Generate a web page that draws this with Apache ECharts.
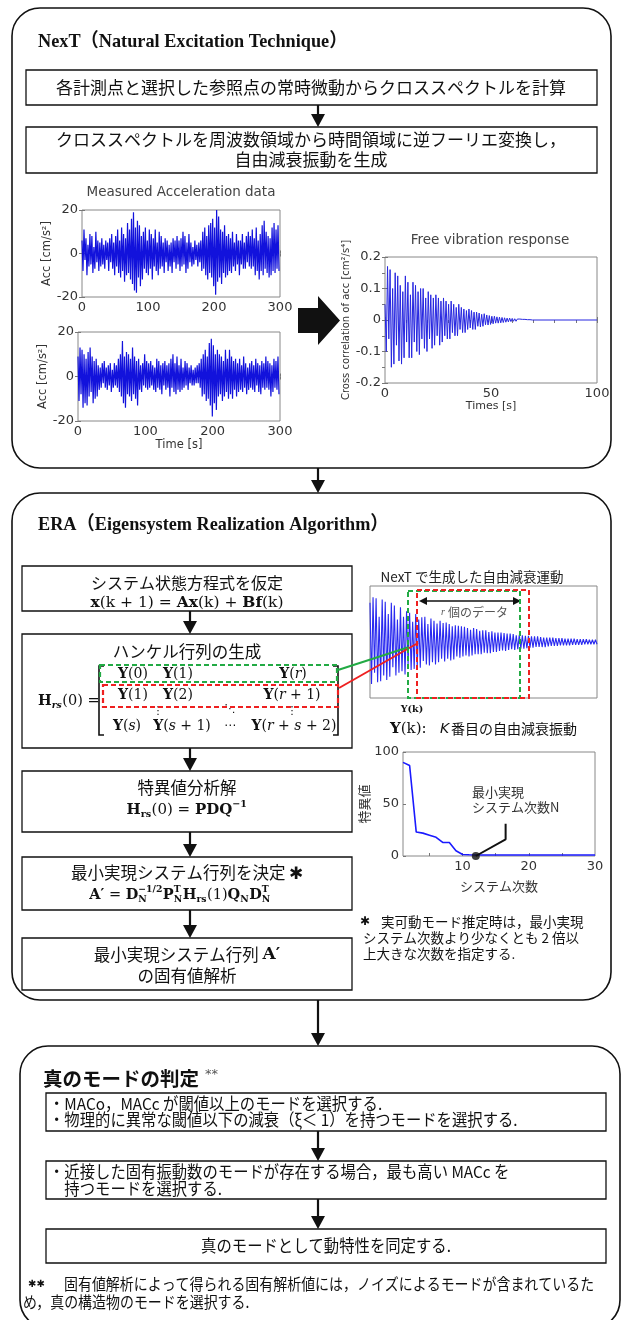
<!DOCTYPE html>
<html>
<head>
<meta charset="utf-8">
<script src="https://cdn.jsdelivr.net/npm/echarts@6/dist/echarts.min.js"></script>
<style>
  html, body { margin: 0; padding: 0; background: #fff; }
  #chart { width: 622px; height: 1320px; }
</style>
</head>
<body>
<div id="chart"></div>
<script>
// ---------- measured accelerations [cm/s^2], one sample every accelStep seconds ----------
const accelStep = 1.5;
const accelTop = [
  6,-8,11,-3,7,-10,4,-6,9,-5,   8,-9,3,-7,10,-4,6,-8,5,-6,
  7,-5,4,-7,6,-3,5,-8,7,-4,     9,-7,5,-10,8,-6,11,-9,6,-11,
  12,-8,9,-13,7,-10,14,-9,11,-12, 16,-14,19,-17,12,-18,15,-11,13,-15,
  8,-12,10,-7,12,-9,6,-10,11,-7, 9,-12,7,-6,11,-8,5,-10,10,-7,
  8,-6,5,-9,7,-4,6,-8,4,-6,     5,-9,7,-4,6,-7,8,-5,6,-8,
  7,-6,10,-5,8,-9,5,-7,9,-4,    5,-6,3,-5,6,-3,4,-6,5,-4,
  6,-8,10,-7,12,-10,8,-12,13,-9, 14,-11,16,-15,12,-19,20,-13,17,-11,
  11,-14,10,-9,13,-11,8,-10,9,-8, 7,-9,10,-6,5,-8,9,-5,6,-10,
  6,-5,9,-7,5,-7,8,-4,10,-6,    8,-7,11,-6,7,-10,12,-8,6,-12,
  9,-8,13,-10,15,-7,10,-9,8,-11, 7,-10,12,-8,14,-9,11,-7,13,-8
];
const accelBottom = [
  9,-11,13,-8,12,-14,10,-12,8,-13, 11,-9,13,-7,9,-12,7,-10,8,-9,
  5,-6,4,-5,6,-3,7,-5,4,-6,     5,-4,6,-7,3,-5,6,-4,5,-5,
  8,-7,10,-9,16,-12,9,-14,11,-8, 10,-9,8,-11,13,-8,9,-10,7,-13,
  8,-6,5,-7,6,-4,10,-5,7,-6,    6,-5,7,-4,5,-6,4,-7,8,-5,
  7,-6,5,-8,6,-4,7,-6,5,-5,     6,-9,8,-5,10,-7,6,-8,9,-6,
  5,-7,8,-6,4,-5,7,-4,6,-6,     4,-3,5,-4,3,-4,4,-3,5,-3,
  6,-5,8,-9,10,-8,12,-11,9,-10, 15,-13,17,-18,14,-12,10,-15,12,-9,
  10,-8,9,-11,7,-9,12,-7,8,-10, 12,-8,9,-10,7,-6,8,-9,6,-7,
  8,-6,5,-7,9,-5,6,-8,4,-6,     6,-5,7,-6,5,-7,8,-4,6,-7,
  5,-8,7,-5,6,-6,9,-5,7,-6,     6,-9,5,-7,8,-5,7,-6,9,-8
];

// ---------- cross-correlation free decay [cm^2/s^4], one extreme every freeStep seconds ----------
const freeStep = 0.6;
const freeEnd = 100;
const freeResponse = [
  0.05,-0.10,0.17,-0.06,0.16,-0.15,0.10,-0.14,0.15,-0.08,
  0.14,-0.13,0.11,-0.14,0.09,-0.12,0.14,-0.07,0.12,-0.12,
  0.08,-0.12,0.12,-0.07,0.11,-0.10,0.09,-0.11,0.10,-0.06,
  0.10,-0.09,0.07,-0.10,0.09,-0.06,0.08,-0.09,0.07,-0.08,
  0.08,-0.05,0.07,-0.08,0.06,-0.07,0.07,-0.05,0.06,-0.06,
  0.05,-0.06,0.06,-0.04,0.05,-0.05,0.04,-0.05,0.05,-0.03,
  0.04,-0.04,0.035,-0.04,0.03,-0.03,0.035,-0.025,0.03,-0.03,
  0.025,-0.03,0.025,-0.02,0.022,-0.022,0.018,-0.02,0.02,-0.015,
  0.016,-0.016,0.014,-0.014,0.012,-0.012,0.012,-0.01,0.01,-0.01,
  0.009,-0.009,0.008,-0.008,0.007,-0.007,0.006,-0.006,0.006,-0.005,
  0.005,-0.004,0.004,-0.004,0.003,-0.003,0.003,-0.003,0.002,-0.002,
  0.002,-0.002,0.001,-0.001,0.001,-0.001,0
];

// ---------- normalised free decay shown in the ERA sketch ----------
const eraDecay = [
  0.70,-0.75,0.80,-0.55,0.78,-0.72,0.45,-0.70,0.76,-0.60,
  0.72,-0.68,0.50,-0.62,0.70,-0.45,0.65,-0.60,0.40,-0.55,
  0.62,-0.52,0.45,-0.58,0.55,-0.40,0.52,-0.50,0.36,-0.48,
  0.50,-0.44,0.40,-0.46,0.44,-0.34,0.45,-0.40,0.32,-0.42,
  0.42,-0.36,0.38,-0.40,0.33,-0.36,0.38,-0.30,0.34,-0.35,
  0.35,-0.30,0.32,-0.33,0.28,-0.31,0.30,-0.26,0.29,-0.28,
  0.28,-0.26,0.27,-0.24,0.25,-0.26,0.22,-0.24,0.25,-0.22,
  0.23,-0.22,0.20,-0.22,0.21,-0.19,0.21,-0.20,0.18,-0.20,
  0.19,-0.18,0.17,-0.18,0.17,-0.16,0.17,-0.15,0.16,-0.16,
  0.15,-0.14,0.15,-0.13,0.14,-0.14,0.12,-0.13,0.13,-0.12,
  0.12,-0.12,0.11,-0.11,0.11,-0.10,0.10,-0.10,0.10,-0.09,
  0.10,-0.09,0.09,-0.09,0.08,-0.09,0.08,-0.08,0.08,-0.07,
  0.08,-0.07,0.07,-0.07,0.07,-0.06,0.07,-0.06,0.06,-0.06,
  0.06,-0.06,0.06,-0.05,0.06,-0.05,0.05,-0.05,0.05,-0.05,
  0.05,-0.04,0.05,-0.04,0.04,-0.04,0.04,-0.04,0.04,-0.04
];

// ---------- singular values by system order ----------
const systemOrders = [1,2,3,4,5,6,7,8,9,10,11,12,13,14,15,16,17,18,19,20,21,22,23,24,25,26,27,28,29,30];
const singularValues = [90,87,23,22,20,18,13,13,5,1.5,1.2,1,1,1,1,1,1,1,1,1,1,1,1,1,1,1,1,1,1,1];
const minOrderPoint = [12, 0];
const minOrderPointer = [[12, 0], [16.5, 16], [16.5, 31]];

// ---------- fonts & text helpers ----------
const SERIF = "'Liberation Serif','DejaVu Serif','Noto Sans CJK JP',serif";
const MATH = "'DejaVu Serif','Liberation Serif',serif";
const JP = "'Noto Sans CJK JP','Noto Sans',sans-serif";
const SANS = "'DejaVu Sans','Liberation Sans',sans-serif";
const mctx = document.createElement('canvas').getContext('2d');
const G = [];

function fontOf(o) {
  return (o.i ? 'italic ' : '') + (o.b ? 'bold ' : '') + o.size + 'px ' + (o.family || JP);
}
function tw(str, o) { mctx.font = fontOf(o); return mctx.measureText(str).width * (o.sx || 1); }

function txt(x, y, str, o) {
  G.push({
    type: 'text', x: x, y: y, scaleX: o.sx || 1, silent: true, z: o.z || 50,
    style: {
      text: str, x: 0, y: 0, font: fontOf(o), fill: o.color || '#111',
      align: o.align || 'left', verticalAlign: o.va || 'middle'
    }
  });
}
// inline maths: pieces {t,b,i} or script pieces {sub,sup,b,i}
function mathRow(x, y, pieces, size, align) {
  const scr = size * 0.64;
  let w = 0;
  const parts = [];
  for (const p of pieces) {
    if (p.t !== undefined) {
      const o = { size: p.size || size, family: p.jp ? JP : MATH, b: p.b, i: p.i };
      parts.push({ dx: w, dy: 0, t: p.t, o });
      w += tw(p.t, o);
    } else {
      let mw = 0;
      if (p.sup) { const o = { size: scr, family: MATH, b: p.b, i: p.i }; parts.push({ dx: w, dy: -size * 0.36, t: p.sup, o }); mw = Math.max(mw, tw(p.sup, o)); }
      if (p.sub) { const o = { size: scr, family: MATH, b: p.b, i: p.i }; parts.push({ dx: w, dy: size * 0.3, t: p.sub, o }); mw = Math.max(mw, tw(p.sub, o)); }
      w += mw + 0.5;
    }
  }
  const x0 = align === 'center' ? x - w / 2 : (align === 'right' ? x - w : x);
  parts.forEach(q => txt(x0 + q.dx, y + q.dy, q.t, Object.assign({}, q.o, { align: 'left' })));
  return w;
}
function box(x, y, w, h, o) {
  o = o || {};
  G.push({
    type: 'rect', silent: true, z: o.z || 40,
    shape: { x: x, y: y, width: w, height: h, r: o.r || 0 },
    style: { fill: 'none', stroke: o.stroke || '#111', lineWidth: o.lw || 1.3, lineDash: o.dash || null }
  });
}
function seg(x1, y1, x2, y2, color, lw) {
  G.push({ type: 'line', silent: true, z: 45, shape: { x1, y1, x2, y2 }, style: { stroke: color || '#111', lineWidth: lw || 2 } });
}
function poly(points, color) {
  G.push({ type: 'polygon', silent: true, z: 45, shape: { points }, style: { fill: color || '#111' } });
}
function arrowDown(x, y1, y2) {
  seg(x, y1, x, y2 - 10, '#111', 2.2);
  poly([[x - 7, y2 - 13], [x + 7, y2 - 13], [x, y2]]);
}

// ---------- NexT section ----------
box(12, 8, 599, 460, { r: 28, lw: 1.6 });
txt(38, 42, 'NexT（Natural Excitation Technique）', { size: 19, family: SERIF, b: true, sx: 0.96 });
box(26, 70, 571, 35);
txt(311, 87.5, '各計測点と選択した参照点の常時微動からクロススペクトルを計算', { size: 17, align: 'center' });
arrowDown(318, 105, 127);
box(26, 127, 571, 46);
txt(311, 140, 'クロススペクトルを周波数領域から時間領域に逆フーリエ変換し，', { size: 17, align: 'center' });
txt(311, 160, '自由減衰振動を生成', { size: 17, align: 'center' });

txt(181, 192, 'Measured Acceleration data', { size: 13.5, family: SANS, color: '#444', align: 'center' });
txt(490, 240, 'Free vibration response', { size: 13.5, family: SANS, color: '#444', align: 'center' });
// block arrow between the plots
poly([[298, 308], [318, 308], [318, 296], [340, 320.5], [318, 345], [318, 333], [298, 333]]);
arrowDown(318, 468, 493);

// ---------- ERA section ----------
box(12, 493, 599, 507, { r: 28, lw: 1.6 });
txt(38, 525, 'ERA（Eigensystem Realization Algorithm）', { size: 19, family: SERIF, b: true, sx: 0.96 });

const CX = 187;
box(22, 566, 330, 45);
txt(CX, 583, 'システム状態方程式を仮定', { size: 16, align: 'center' });
mathRow(CX, 603, [
  { t: 'x', b: true }, { t: '(k + 1) = ' }, { t: 'Ax', b: true }, { t: '(k) + ' }, { t: 'Bf', b: true }, { t: '(k)' }
], 15.5, 'center');
arrowDown(190, 611, 634);

box(22, 634, 330, 114);
txt(CX, 652, 'ハンケル行列の生成', { size: 16.5, align: 'center' });
mathRow(38, 701, [{ t: 'H', b: true }, { sub: 'rs', b: true, i: true }, { t: '(0) =' }], 14.5, 'left');
// matrix brackets
G.push({ type: 'polyline', silent: true, z: 45, shape: { points: [[104, 666], [99, 666], [99, 735], [104, 735]] }, style: { stroke: '#111', lineWidth: 1.6, fill: null } });
G.push({ type: 'polyline', silent: true, z: 45, shape: { points: [[333, 666], [338, 666], [338, 735], [333, 735]] }, style: { stroke: '#111', lineWidth: 1.6, fill: null } });
const Y = (inner) => [{ t: 'Y', b: true }].concat(inner);
const MS = 14;
mathRow(133, 674, Y([{ t: '(0)' }]), MS, 'center');
mathRow(178, 674, Y([{ t: '(1)' }]), MS, 'center');
mathRow(293, 674, Y([{ t: '(' }, { t: 'r', i: true }, { t: ')' }]), MS, 'center');
mathRow(133, 695, Y([{ t: '(1)' }]), MS, 'center');
mathRow(178, 695, Y([{ t: '(2)' }]), MS, 'center');
mathRow(292, 695, Y([{ t: '(' }, { t: 'r', i: true }, { t: ' + 1)' }]), MS, 'center');
txt(158, 711, '⋮', { size: 11, family: SANS, align: 'center' });
txt(230, 709, '⋱', { size: 11, family: SANS, align: 'center' });
txt(292, 711, '⋮', { size: 11, family: SANS, align: 'center' });
mathRow(127, 726, Y([{ t: '(' }, { t: 's', i: true }, { t: ')' }]), MS, 'center');
mathRow(182, 726, Y([{ t: '(' }, { t: 's', i: true }, { t: ' + 1)' }]), MS, 'center');
txt(230, 726, '⋯', { size: 12, family: SANS, align: 'center' });
mathRow(294, 726, Y([{ t: '(' }, { t: 'r', i: true }, { t: ' + ' }, { t: 's', i: true }, { t: ' + 2)' }]), MS, 'center');
// highlighted rows
box(100, 665, 237, 17, { stroke: '#22aa44', lw: 2.2, dash: [5, 3], z: 60 });
box(103, 685, 235, 22, { stroke: '#ee2020', lw: 2.2, dash: [5, 3], z: 60 });
seg(338, 670, 409, 647, '#22aa44', 2);
seg(339, 688, 418, 643, '#ee2020', 2);

arrowDown(190, 748, 771);
box(22, 771, 330, 61);
txt(CX, 788, '特異値分析解', { size: 16.5, align: 'center' });
mathRow(CX, 810, [
  { t: 'H', b: true }, { sub: 'rs', b: true }, { t: '(0) = ' }, { t: 'PDQ', b: true }, { sup: '−1', b: true }
], 15, 'center');

arrowDown(190, 832, 857);
box(22, 857, 330, 53);
txt(CX, 873, '最小実現システム行列を決定 ✱', { size: 16.5, align: 'center' });
mathRow(180, 895, [
  { t: 'A′', b: true }, { t: ' = ' }, { t: 'D', b: true }, { sub: 'N', sup: '−1/2', b: true },
  { t: 'P', b: true }, { sub: 'N', sup: 'T', b: true }, { t: 'H', b: true }, { sub: 'rs', b: true },
  { t: '(1)' }, { t: 'Q', b: true }, { sub: 'N', b: true }, { t: 'D', b: true }, { sub: 'N', sup: 'T', b: true }
], 14.5, 'center');

arrowDown(190, 910, 938);
box(22, 938, 330, 52);
{
  const w1 = tw('最小実現システム行列 ', { size: 16.5 });
  const w2 = tw('A′', { size: 17, family: MATH, b: true });
  const x0 = CX - (w1 + w2) / 2;
  txt(x0, 955, '最小実現システム行列 ', { size: 16.5 });
  txt(x0 + w1, 955, 'A′', { size: 17, family: MATH, b: true });
}
txt(CX, 976, 'の固有値解析', { size: 16.5, align: 'center' });

// right column of the ERA section
txt(472, 577, 'NexT で生成した自由減衰運動', { size: 13.5, color: '#222', align: 'center' });
box(408, 591, 112, 107, { stroke: '#22aa44', lw: 2, dash: [5, 3], z: 60 });
box(417, 590, 112, 108, { stroke: '#ee2020', lw: 2, dash: [5, 3], z: 60 });
seg(424, 601, 514, 601, '#111', 1.6);
poly([[419, 601], [427, 597], [427, 605]]);
poly([[521, 601], [513, 597], [513, 605]]);
txt(441, 612, 'r', { size: 10, family: SERIF, i: true, color: '#555' });
txt(448, 612, '個のデータ', { size: 12, color: '#555' });
mathRow(412, 710, [{ t: 'Y', b: true }, { t: '(k)', b: true }], 9.5, 'center');
mathRow(390, 729, [{ t: 'Y', b: true }, { t: '(k):' }], 15, 'left');
txt(440, 729, 'K', { size: 14, family: SANS, i: true });
txt(451, 729, '番目の自由減衰振動', { size: 14 });

txt(472, 792, '最小実現', { size: 13, color: '#333' });
txt(472, 807, 'システム次数N', { size: 13, color: '#333' });

txt(365, 922, '✱', { size: 12, family: SANS, align: 'center' });
txt(381, 922, '実可動モード推定時は，最小実現', { size: 13.5 });
txt(363, 938, 'システム次数より少なくとも 2 倍以', { size: 13.5 });
txt(363, 954, '上大きな次数を指定する.', { size: 13.5 });

arrowDown(318, 1000, 1046);

// ---------- true-mode selection section ----------
box(20, 1046, 600, 282, { r: 28, lw: 1.6 });
txt(43, 1079, '真のモードの判定', { size: 19.5, b: true });
txt(205, 1075, '**', { size: 13, family: SANS, color: '#555' });
const SX = 0.93;
const FS = 16.5;
box(46, 1093, 560, 38);
txt(49, 1103.5, '・MACo，MACc が閾値以上のモードを選択する.', { size: FS, sx: SX });
txt(49, 1120, '・物理的に異常な閾値以下の減衰（ξ＜ 1）を持つモードを選択する.', { size: FS, sx: SX });
arrowDown(318, 1131, 1161);
box(46, 1161, 560, 38);
txt(49, 1172, '・近接した固有振動数のモードが存在する場合，最も高い MACc を', { size: FS, sx: SX });
txt(49, 1189, '　持つモードを選択する.', { size: FS, sx: SX });
arrowDown(318, 1199, 1229);
box(46, 1229, 560, 34);
txt(326, 1246, '真のモードとして動特性を同定する.', { size: FS, sx: SX, align: 'center' });
txt(28, 1284, '✱✱', { size: 10, family: SANS });
txt(64, 1284, '固有値解析によって得られる固有解析値には，ノイズによるモードが含まれているた', { size: 15.5, sx: 0.9 });
txt(23, 1302, 'め，真の構造物のモードを選択する.', { size: 15.5, sx: 0.9 });

// ---------- plots ----------
const tickLabel = { color: '#333', fontSize: 13, fontFamily: SANS, margin: 4 };
const innerTick = { show: true, inside: true, length: 3, lineStyle: { color: '#777' } };
function xAx(gi, min, max, extra) {
  return Object.assign({
    type: 'value', gridIndex: gi, min, max,
    axisLine: { show: false }, splitLine: { show: false },
    axisTick: innerTick, axisLabel: tickLabel
  }, extra || {});
}
function yAx(gi, min, max, extra) {
  return Object.assign({
    type: 'value', gridIndex: gi, min, max,
    axisLine: { show: false }, splitLine: { show: false },
    axisTick: innerTick, axisLabel: tickLabel
  }, extra || {});
}
// tick-only mirror axes on the top and right edges of a plot box
function mirrorX(gi, min, max, interval) {
  return { type: 'value', gridIndex: gi, position: 'top', min, max, interval,
    axisLine: { show: false }, splitLine: { show: false }, axisLabel: { show: false }, axisTick: innerTick };
}
function mirrorY(gi, min, max, interval) {
  return { type: 'value', gridIndex: gi, position: 'right', min, max, interval,
    axisLine: { show: false }, splitLine: { show: false }, axisLabel: { show: false }, axisTick: innerTick };
}
const gridStyle = { show: true, borderColor: '#888', borderWidth: 1, backgroundColor: 'transparent' };

const accelTopData = accelTop.map((v, i) => [i * accelStep, v]);
const accelBottomData = accelBottom.map((v, i) => [i * accelStep, v]);
const freeData = freeResponse.map((v, i) => [i * freeStep, v]);
freeData.push([freeEnd, 0]);
const eraData = eraDecay.map((v, i) => [i, v]);
const singularData = systemOrders.map((k, i) => [k, singularValues[i]]);

const option = {
  animation: false,
  grid: [
    Object.assign({ left: 82, top: 210, width: 198, height: 87 }, gridStyle),
    Object.assign({ left: 78, top: 332, width: 202, height: 89 }, gridStyle),
    Object.assign({ left: 385, top: 257, width: 212, height: 126 }, gridStyle),
    Object.assign({ left: 370, top: 586, width: 227, height: 112 }, gridStyle),
    Object.assign({ left: 403, top: 752, width: 192, height: 104 }, gridStyle)
  ],
  xAxis: [
    xAx(0, 0, 300, { interval: 100 }),
    xAx(1, 0, 300, { interval: 100, name: 'Time [s]', nameLocation: 'middle', nameGap: 18,
      nameTextStyle: { color: '#333', fontSize: 11.5, fontFamily: SANS } }),
    xAx(2, 0, 100, { interval: 50, name: 'Times [s]', nameLocation: 'middle', nameGap: 15,
      nameTextStyle: { color: '#333', fontSize: 11, fontFamily: SANS } }),
    xAx(3, 0, eraDecay.length - 1, { axisLabel: { show: false }, axisTick: { show: false } }),
    xAx(4, 1, 30, {
      axisLabel: Object.assign({}, tickLabel, { customValues: [10, 20, 30] }),
      axisTick: Object.assign({}, innerTick, { customValues: [5, 10, 15, 20, 25] }),
      name: 'システム次数', nameLocation: 'middle', nameGap: 24,
      nameTextStyle: { color: '#333', fontSize: 13, fontFamily: JP }
    }),
    mirrorX(0, 0, 300, 100),
    mirrorX(1, 0, 300, 100),
    mirrorX(2, 0, 100, 10)
  ],
  yAxis: [
    yAx(0, -20, 20, { interval: 20, name: 'Acc [cm/s²]', nameLocation: 'middle', nameRotate: 90, nameGap: 28,
      nameTextStyle: { color: '#333', fontSize: 11.5, fontFamily: SANS } }),
    yAx(1, -20, 20, { interval: 20, name: 'Acc [cm/s²]', nameLocation: 'middle', nameRotate: 90, nameGap: 28,
      nameTextStyle: { color: '#333', fontSize: 11.5, fontFamily: SANS } }),
    yAx(2, -0.2, 0.2, { interval: 0.1, name: 'Cross correlation of acc [cm²/s⁴]', nameLocation: 'middle', nameRotate: 90, nameGap: 29,
      nameTextStyle: { color: '#333', fontSize: 10, fontFamily: SANS } }),
    yAx(3, -1, 1, { axisLabel: { show: false }, axisTick: { show: false } }),
    yAx(4, 0, 100, { interval: 50, name: '特異値', nameLocation: 'middle', nameRotate: 90, nameGap: 28,
      nameTextStyle: { color: '#333', fontSize: 13, fontFamily: JP } }),
    mirrorY(0, -20, 20, 20),
    mirrorY(1, -20, 20, 20),
    mirrorY(2, -0.2, 0.2, 0.05)
  ],
  series: [
    { type: 'line', xAxisIndex: 0, yAxisIndex: 0, data: accelTopData, showSymbol: false, symbol: 'none',
      lineStyle: { color: '#1212dc', width: 1.2 }, silent: true },
    { type: 'line', xAxisIndex: 1, yAxisIndex: 1, data: accelBottomData, showSymbol: false, symbol: 'none',
      lineStyle: { color: '#1212dc', width: 1.2 }, silent: true },
    { type: 'line', xAxisIndex: 2, yAxisIndex: 2, data: freeData, showSymbol: false, symbol: 'none',
      lineStyle: { color: '#2626e0', width: 1 }, silent: true },
    { type: 'line', xAxisIndex: 3, yAxisIndex: 3, data: eraData, showSymbol: false, symbol: 'none',
      lineStyle: { color: '#2a2af0', width: 1.1 }, silent: true },
    { type: 'line', xAxisIndex: 4, yAxisIndex: 4, data: singularData, showSymbol: false, symbol: 'none',
      lineStyle: { color: '#1a1aff', width: 1.6 }, silent: true },
    { type: 'line', xAxisIndex: 4, yAxisIndex: 4, data: minOrderPointer, showSymbol: false, symbol: 'none',
      lineStyle: { color: '#111', width: 2 }, silent: true, z: 5 },
    { type: 'scatter', xAxisIndex: 4, yAxisIndex: 4, data: [minOrderPoint], symbolSize: 8,
      itemStyle: { color: '#111' }, silent: true, z: 6 }
  ],
  graphic: G
};

const chart = echarts.init(document.getElementById('chart'), null, { renderer: 'canvas' });
chart.setOption(option);
</script>
</body>
</html>
